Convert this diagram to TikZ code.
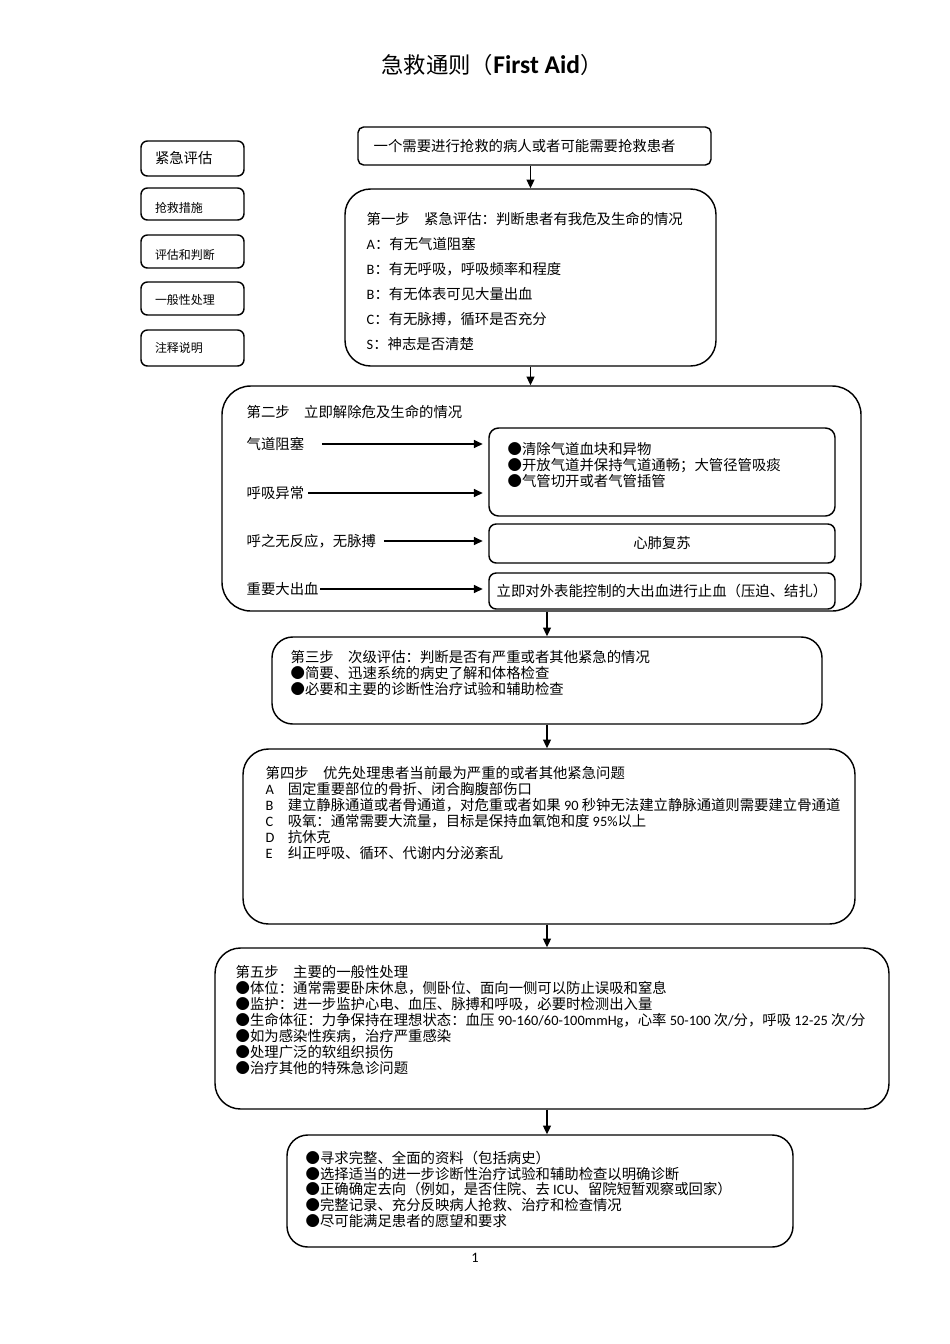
\documentclass[tikz,border=0pt]{standalone}
\usepackage{fontspec}
\setmainfont{Noto Sans CJK SC}
\newfontfamily\lat{Carlito}
\newcommand{\en}[1]{{\lat #1}}
\newcommand{\itm}[1]{\makebox[13.8pt][l]{\en{#1}}}
\newcommand{\low}[2]{\raisebox{-#1}[0.85em][0.15em]{#2}}
\newcommand{\pxu}{0.6263pt}
\usetikzlibrary{positioning}
\usetikzlibrary{arrows.meta}

\begin{document}
\begin{tikzpicture}[>={Triangle[length=5.5pt,width=5pt]},x=\pxu,y=-\pxu,line width=0.9pt,
	txt/.style={anchor=north west,align=left,inner sep=0pt,font=\fontsize{9pt}{10pt}\selectfont},
	lab/.style={anchor=west,inner sep=0pt,font=\fontsize{9pt}{10pt}\selectfont},
	box/.style={draw,rounded corners=#1,inner sep=0pt,font=\fontsize{9pt}{10pt}\selectfont},
	box/.default=15pt,
	lbox/.style={draw,rounded corners=4pt,minimum width=103*\pxu,text width=75*\pxu,inner xsep=14*\pxu,inner ysep=0pt,align=left,font=\fontsize{7.5pt}{9pt}\selectfont}]
				\useasboundingbox (0,0) rectangle (950,1344);

				\node[font=\fontsize{14pt}{16pt}\selectfont] (title) at (492,65) {急救通则（{\lat\bfseries\fontsize{16pt}{18pt}\selectfont First Aid}）};

				\node[lbox, minimum height=35*\pxu, font=\fontsize{9pt}{10pt}\selectfont] (l1) at (192.5,158.5) {紧急评估};
				\node[lbox, minimum height=32*\pxu] (l2) at (192.5,204) {\low{3pt}{抢救措施}};
				\node[lbox, minimum height=33*\pxu] (l3) at (192.5,251.5) {\low{2.2pt}{评估和判断}};
				\node[lbox, minimum height=33*\pxu] (l4) at (192.5,298.5) {\low{1pt}{一般性处理}};
				\node[lbox, minimum height=36*\pxu] (l5) at (192.5,348) {注释说明};

				\node[box=3.5pt, minimum width=353*\pxu, minimum height=38*\pxu] (t) at (534.5,146) {};
				\node[lab] (tt) at (373,146) {一个需要进行抢救的病人或者可能需要抢救患者};

				\node[box=16pt, minimum width=371*\pxu, minimum height=177*\pxu] (s1) at (530.5,277.5) {};
				\node[txt, font=\fontsize{9pt}{15.66pt}\selectfont] (s1t) at (366,212) {第一步\hspace{1em}紧急评估：判断患者有我危及生命的情况\\
					\en{A}：有无气道阻塞\\
					\en{B}：有无呼吸，呼吸频率和程度\\
					\en{B}：有无体表可见大量出血\\
					\en{C}：有无脉搏，循环是否充分\\
					\en{S}：神志是否清楚};

				\node[box=18pt, minimum width=639*\pxu, minimum height=225*\pxu] (s2) at (541.5,498.5) {};
				\node[lab] (s2t) at (246,412) {第二步\hspace{1em}立即解除危及生命的情况};
				\node[lab] (a1) at (246,444) {气道阻塞};
				\node[lab] (a2) at (246,493) {呼吸异常};
				\node[lab] (a3) at (246,541) {呼之无反应，无脉搏};
				\node[lab] (a4) at (246,589) {重要大出血};
				\node[box=6pt, minimum width=346*\pxu, minimum height=88*\pxu] (ba) at (662,472) {};
				\node[txt] (bat) at (507,442) {●清除气道血块和异物\\●开放气道并保持气道通畅；大管径管吸痰\\●气管切开或者气管插管};
				\node[box=4.5pt, minimum width=346*\pxu, minimum height=39*\pxu] (bb) at (662,543.5) {心肺复苏};
				\node[box=4.5pt, minimum width=346*\pxu, minimum height=36*\pxu] (bc) at (662,591) {立即对外表能控制的大出血进行止血（压迫、结扎）};

				\node[box=13pt, minimum width=550*\pxu, minimum height=87*\pxu] (s3) at (547,680.5) {};
				\node[txt] (s3t) at (290,650) {第三步\hspace{1em}次级评估：判断是否有严重或者其他紧急的情况\\
					●简要、迅速系统的病史了解和体格检查\\
					●必要和主要的诊断性治疗试验和辅助检查};

				\node[box=16pt, minimum width=612*\pxu, minimum height=175*\pxu] (s4) at (549,836.5) {};
				\node[txt] (s4t) at (265,766) {第四步\hspace{1em}优先处理患者当前最为严重的或者其他紧急问题\\
					\itm{A}固定重要部位的骨折、闭合胸腹部伤口\\
					\itm{B}建立静脉通道或者骨通道，对危重或者如果 \en{90} 秒钟无法建立静脉通道则需要建立骨通道\\
					\itm{C}吸氧：通常需要大流量，目标是保持血氧饱和度 \en{95\%}以上\\
					\itm{D}抗休克\\
					\itm{E}纠正呼吸、循环、代谢内分泌紊乱};

				\node[box=16pt, minimum width=674*\pxu, minimum height=161*\pxu] (s5) at (552,1028.5) {};
				\node[txt] (s5t) at (235,965) {第五步\hspace{1em}主要的一般性处理\\
					●体位：通常需要卧床休息，侧卧位、面向一侧可以防止误吸和窒息\\
					●监护：进一步监护心电、血压、脉搏和呼吸，必要时检测出入量\\
					●生命体征：力争保持在理想状态：血压 \en{90-160/60-100mmHg}，心率 \en{50-100} 次\en{/}分，呼吸 \en{12-25} 次\en{/}分\\
					●如为感染性疾病，治疗严重感染\\
					●处理广泛的软组织损伤\\
					●治疗其他的特殊急诊问题};

				\node[box=13pt, minimum width=506*\pxu, minimum height=112*\pxu] (s6) at (540,1191) {};
				\node[txt] (s6t) at (305,1150) {●寻求完整、全面的资料（包括病史）\\
					●选择适当的进一步诊断性治疗试验和辅助检查以明确诊断\\
					●正确确定去向（例如，是否住院、去 \en{ICU}、留院短暂观察或回家）\\
					●完整记录、充分反映病人抢救、治疗和检查情况\\
					●尽可能满足患者的愿望和要求};

				\node[font=\fontsize{9pt}{10pt}\selectfont] (pg) at (475,1258) {\en{1}};

				\draw[->] (t.south -| s1.north) -- (s1.north);
				\draw[->] (s1.south) -- (s1.south |- s2.north);
				\draw[->] (s2.south -| s3.north) -- (s3.north);
				\draw[->] (s3.south) -- (s3.south |- s4.north);
				\draw[->] (s4.south -| s3.south) -- (s5.north -| s3.south);
				\draw[->] (s5.south -| s3.south) -- (s6.north -| s3.south);

				\draw[->,shorten <=10.6pt,shorten >=3.5pt] (a1.east) -- (a1.east -| ba.west);
				\draw[->,shorten <=2pt,shorten >=3.5pt] (a2.east) -- (a2.east -| ba.west);
				\draw[->,shorten <=4.4pt,shorten >=3.5pt] (a3.east) -- (a3.east -| bb.west);
				\draw[->,shorten <=0.5pt,shorten >=3.5pt] (a4.east) -- (a4.east -| bc.west);
\end{tikzpicture}
\end{document}
